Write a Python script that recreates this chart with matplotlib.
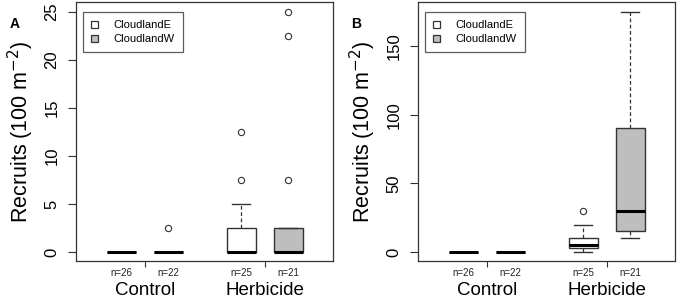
import numpy as np
import matplotlib
matplotlib.use('Agg')
import matplotlib.pyplot as plt
from matplotlib.patches import Patch

plt.rcParams['font.family'] = ['Liberation Sans', 'DejaVu Sans']

# kategorie i liczebnosci
grupy = ['Control', 'Herbicide']
miejsca = ['CloudlandE', 'CloudlandW']
liczebnosc = [26, 22, 25, 21]

# panel A - statystyki pudelek
a_med = [0, 0, 0, 0]
a_q1 = [0, 0, 0, 0]
a_q3 = [0, 0, 2.5, 2.5]
a_dol = [0, 0, 0, 0]
a_gora = [0, 0, 5, 2.5]
a_odstajace = [[], [2.5], [7.5, 12.5], [7.5, 22.5, 25]]

# panel B
b_med = [0, 0, 5, 30]
b_q1 = [0, 0, 3, 15]
b_q3 = [0, 0, 10, 90]
b_dol = [0, 0, 0, 10]
b_gora = [0, 0, 20, 175]
b_odstajace = [[], [], [30], []]

kolory = ['white', '#bebebe', 'white', '#bebebe']
pozycje = [1, 2, 3.55, 4.55]
srodki_grup = [1.5, 4.05]
ramka = '#333333'


def rysuj(ax, med, q1, q3, dol, gora, odst, yticks, ylim, litera):
    staty = []
    for i in range(4):
        staty.append({'med': med[i], 'q1': q1[i], 'q3': q3[i],
                      'whislo': dol[i], 'whishi': gora[i], 'fliers': odst[i]})
    bp = ax.bxp(staty, positions=pozycje, widths=0.62, patch_artist=True,
                showfliers=True,
                boxprops=dict(edgecolor=ramka, linewidth=1.0),
                medianprops=dict(color='black', linewidth=2.2, solid_capstyle='butt'),
                whiskerprops=dict(color=ramka, linewidth=0.9, linestyle=(0, (3, 2))),
                capprops=dict(color=ramka, linewidth=1.0),
                flierprops=dict(marker='o', markerfacecolor='none',
                                markeredgecolor=ramka, markersize=4.5, markeredgewidth=0.8))
    for p, k in zip(bp['boxes'], kolory):
        p.set_facecolor(k)
    for c, w in zip(bp['caps'], np.repeat(range(4), 2)):
        c.set_xdata([pozycje[w] - 0.19, pozycje[w] + 0.19])

    ax.set_xlim(0.04, 5.5)
    ax.set_ylim(*ylim)
    ax.set_yticks(yticks)
    ax.set_yticklabels([str(t) for t in yticks], rotation=90, va='center', fontsize=12)
    ax.tick_params(axis='y', length=6, width=0.8, color=ramka, pad=6)
    ax.set_xticks(srodki_grup)
    ax.set_xticklabels(grupy, fontsize=13.5)
    ax.tick_params(axis='x', length=4, width=0.8, color=ramka, pad=11)
    for s in ax.spines.values():
        s.set_color(ramka)
        s.set_linewidth(0.9)
    ax.set_ylabel('Recruits (100 m$^{-2}$)', fontsize=15.5, labelpad=6)

    for p, n in zip(pozycje, liczebnosc):
        ax.text(p, -0.045, 'n=%d' % n, transform=ax.get_xaxis_transform(),
                ha='center', va='center', fontsize=7, color='#222222')

    uchwyty = [Patch(facecolor=k, edgecolor=ramka, linewidth=0.9) for k in kolory[:2]]
    leg = ax.legend(uchwyty, miejsca, loc='upper left', bbox_to_anchor=(0.027, 0.962),
                    borderaxespad=0, fontsize=8, frameon=True, fancybox=False,
                    handlelength=0.65, handleheight=0.65, handletextpad=1.35,
                    borderpad=0.75, labelspacing=0.35)
    leg.get_frame().set_edgecolor(ramka)
    leg.get_frame().set_linewidth(0.9)

    ax.figure.text(ax.get_position().x0 - 0.097, 0.92, litera, fontsize=10,
                   fontweight='bold', ha='left', va='center')


fig = plt.figure(figsize=(6.84, 2.98), dpi=100)
axA = fig.add_axes([0.111, 0.124, 0.376, 0.869])
axB = fig.add_axes([0.611, 0.124, 0.376, 0.869])

rysuj(axA, a_med, a_q1, a_q3, a_dol, a_gora, a_odstajace,
      [0, 5, 10, 15, 20, 25], (-0.94, 26.04), 'A')
rysuj(axB, b_med, b_q1, b_q3, b_dol, b_gora, b_odstajace,
      [0, 50, 100, 150], (-6.6, 182), 'B')

fig.savefig('out.png', dpi=100)
